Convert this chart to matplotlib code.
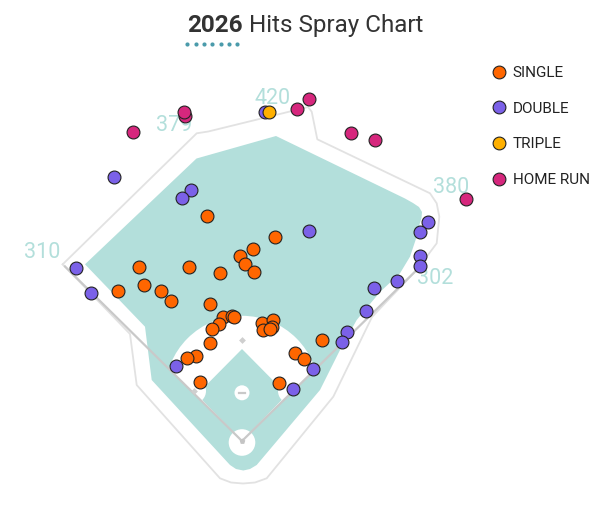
import matplotlib
matplotlib.use("Agg")
import matplotlib.pyplot as plt
import numpy as np
from matplotlib.patches import Polygon, Circle
from matplotlib.lines import Line2D

plt.rcParams['font.family'] = ['Roboto', 'DejaVu Sans']

# ---------------- data (hit coordinates, chart pixel space) ----------------
hit_types = ["SINGLE", "DOUBLE", "TRIPLE", "HOME RUN"]
hit_colors = ["#ff6600", "#7b61e8", "#ffb000", "#d6277d"]

single_x = [206.7, 274.7, 253.3, 240.3, 245.3, 254.0, 219.7, 189.3, 138.7, 144.3, 161.0,
            170.7, 117.7, 210.3, 223.3, 232.3, 234.0, 219.0, 212.3, 210.3, 196.0, 187.3,
            200.3, 261.7, 272.7, 272.3, 263.3, 270.0, 295.0, 304.0, 322.3, 279.3]
single_y = [216.3, 237.0, 249.3, 255.7, 264.0, 272.0, 273.0, 267.0, 267.3, 284.7, 291.0,
            300.7, 291.0, 303.7, 316.7, 316.0, 316.7, 323.7, 329.0, 342.7, 356.0, 358.0,
            381.7, 322.7, 320.0, 327.3, 330.0, 329.3, 353.0, 359.0, 339.7, 382.7]

double_x = [114.3, 191.0, 182.3, 265.0, 309.0, 428.3, 419.7, 420.3, 419.7, 397.3, 374.0,
            366.3, 347.3, 342.0, 313.0, 292.7, 175.7, 76.0, 90.7]
double_y = [177.3, 190.3, 197.7, 112.3, 231.3, 221.7, 232.3, 255.7, 266.0, 281.0, 287.7,
            311.0, 332.3, 341.7, 368.7, 388.7, 365.7, 268.3, 293.3]

triple_x = [269.0]
triple_y = [112.0]

hr_x = [133.3, 185.3, 184.0, 296.7, 309.3, 350.7, 375.3, 465.7]
hr_y = [132.3, 116.0, 111.7, 109.3, 99.0, 132.7, 139.7, 199.3]

# fence distance labels
dist_labels = ["310", "379", "420", "380", "302"]
dist_x = [42, 174, 272.5, 451, 435]
dist_y = [252, 125.5, 99, 187.5, 278]

# ---------------- field geometry ----------------
home = (242.0, 441.0)
first_b = (290.5, 391.0)
second_b = (242.0, 339.5)
third_b = (193.5, 391.0)
mound = (242.0, 392.8)
left_pole = (65.0, 266.5)
right_pole = (416.7, 270.0)

wall_x = [62.7, 196.7, 208.3, 303.0, 308.0, 311.7, 317.3, 430.0, 436.7, 439.3, 436.7,
          416.7, 372.0, 333.3, 266.7, 255.0, 243.0, 231.0, 220.0, 136.7, 130.0, 62.7]
wall_y = [264.3, 133.3, 131.5, 108.3, 107.0, 111.7, 139.3, 193.3, 203.3, 216.7, 243.3,
          270.0, 317.0, 396.7, 478.3, 482.5, 483.5, 482.5, 478.3, 385.0, 334.0, 264.3]

grass_x = [85.0, 196.5, 276.0, 405.0, 413.0, 419.0, 422.0, 421.5, 419.0, 416.7, 410.0,
           400.0, 380.0, 356.7, 340.0, 330.0, 320.0, 256.7, 250.0, 243.3, 236.0, 230.0,
           151.7, 145.0]
grass_y = [264.3, 158.5, 136.0, 198.5, 203.0, 207.0, 212.0, 218.0, 226.0, 236.7, 256.7,
           273.3, 292.0, 320.0, 350.0, 370.0, 390.0, 465.0, 469.0, 470.5, 469.0, 465.0,
           380.0, 326.7]

TEAL = "#b3dfdb"
LINE = "#c9c9c9"
WALL = "#e2e2e2"

fig = plt.figure(figsize=(6.0, 5.32), dpi=100)
ax = fig.add_axes([0, 0, 1, 1])
ax.set_xlim(0, 600)
ax.set_ylim(532, 0)
ax.axis("off")

# wall outline
ax.plot(wall_x, wall_y, color=WALL, lw=1.3, zorder=1, solid_joinstyle="round")

# grass
ax.add_patch(Polygon(np.column_stack([grass_x, grass_y]), closed=True,
                     facecolor=TEAL, edgecolor="none", zorder=2))

# fair territory wedge for clipping
hx, hy = home
lv = np.array(left_pole) - np.array(home)
rv = np.array(right_pole) - np.array(home)
wedge = Polygon([home, tuple(np.array(home) + 3 * lv), tuple(np.array(home) + 3 * rv)],
                closed=True, facecolor="none", edgecolor="none", transform=ax.transData)
ax.add_patch(wedge)

dirt = Circle(mound, 77, facecolor="white", edgecolor="none", zorder=3)
ax.add_patch(dirt)
dirt.set_clip_path(wedge)

# infield grass
ax.add_patch(Polygon([home, (197.0, 394.5), (242.0, 349.0), (287.0, 394.5)], closed=True,
                     facecolor=TEAL, edgecolor="none", zorder=4))
for b in (first_b, third_b):
    c = Circle(b, 12.5, facecolor="white", edgecolor="none", zorder=5)
    ax.add_patch(c)
    c.set_clip_path(wedge)

# home plate circle and mound
ax.add_patch(Circle((242.0, 442.5), 13.3, facecolor="white", edgecolor="none", zorder=6))
ax.add_patch(Circle(mound, 7.5, facecolor="white", edgecolor="none", zorder=6))
ax.plot([239.0, 245.0], [mound[1], mound[1]], color=LINE, lw=1.6, zorder=7)

# foul lines
ax.plot([left_pole[0], hx, right_pole[0]], [left_pole[1], hy, right_pole[1]],
        color=LINE, lw=1.6, zorder=7, solid_joinstyle="miter")

# bases
bx = [first_b[0], second_b[0], third_b[0]]
by = [first_b[1], second_b[1], third_b[1]]
ax.scatter(bx, by, marker="D", s=12, color="#cfcfcf", zorder=8, linewidths=0)
ax.scatter([hx], [hy], marker="p", s=18, color="#c4c4c4", zorder=8, linewidths=0)

# distance labels
for lab, x, y in zip(dist_labels, dist_x, dist_y):
    ax.text(x, y, lab, ha="center", va="center", fontsize=15.5, color=TEAL, zorder=9)

# hits
series = [(single_x, single_y), (double_x, double_y), (triple_x, triple_y), (hr_x, hr_y)]
handles = []
for (xs, ys), lab, col in zip(series, hit_types, hit_colors):
    ax.scatter(xs, ys, s=86, color=col, edgecolors="#222222", linewidths=0.8, zorder=10)
    handles.append(Line2D([], [], marker="o", linestyle="none", markersize=9.2,
                          markerfacecolor=col, markeredgecolor="#222222",
                          markeredgewidth=0.8, label=lab))

leg = ax.legend(handles=handles, loc="upper left", bbox_to_anchor=(491.5 / 600, 1 - 66.0 / 532),
                frameon=False, fontsize=11, handlelength=1.0, handletextpad=0.38,
                labelspacing=1.42, borderpad=0, borderaxespad=0)
for t in leg.get_texts():
    t.set_color("#222222")

# title
t1 = fig.text(186.7 / 600, 1 - 31.7 / 532, "2026", fontsize=17.5, fontweight="bold",
              color="#333333", ha="left", va="baseline")
fig.canvas.draw()
bb = t1.get_window_extent(renderer=fig.canvas.get_renderer())
fig.text((bb.x1 + 6.5) / 600, 1 - 31.7 / 532, "Hits Spray Chart", fontsize=17.5,
         color="#333333", ha="left", va="baseline")

# dotted underline accent
dots_x = np.linspace(187.3, 237.3, 7)
ax.scatter(dots_x, np.full(7, 44.3), s=9, color="#4b9bab", linewidths=0, zorder=10)

fig.savefig("out.png", dpi=100)
